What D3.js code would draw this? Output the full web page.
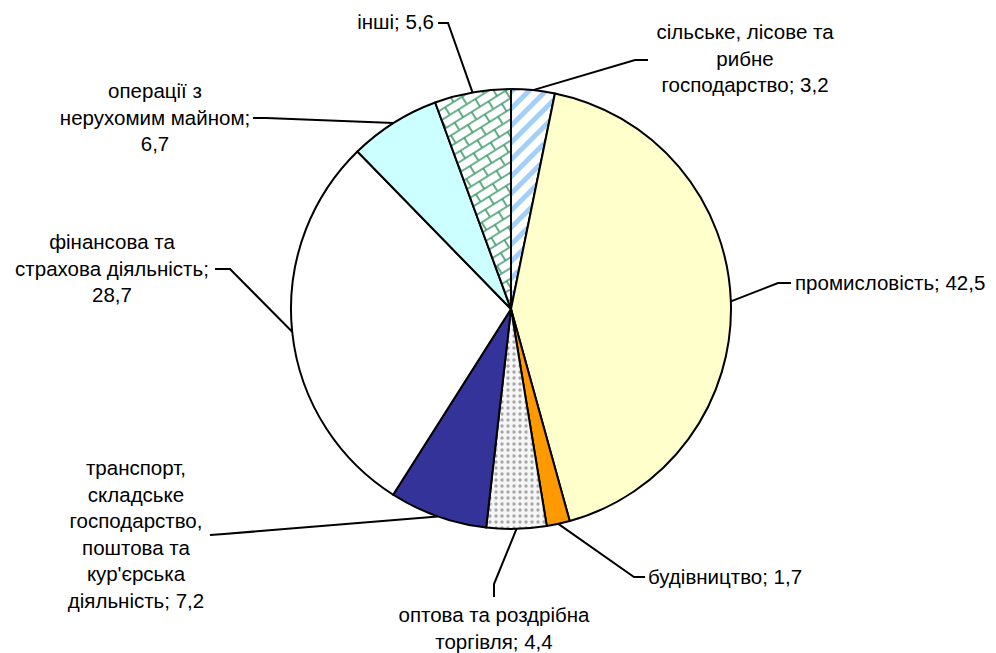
<!DOCTYPE html>
<html>
<head>
<meta charset="utf-8">
<script src="https://cdn.jsdelivr.net/npm/d3@7"></script>
<style>
  body { margin: 0; background: #fff; }
  svg { display: block; }
</style>
</head>
<body>
<div id="chart"></div>
<script>
// дані
const categories = [
  'сільське, лісове та рибне господарство',
  'промисловість',
  'будівництво',
  'оптова та роздрібна торгівля',
  'транспорт, складське господарство, поштова та кур\'єрська діяльність',
  'фінансова та страхова діяльність',
  'операції з нерухомим майном',
  'інші'
];
const values = [3.2, 42.5, 1.7, 4.4, 7.2, 28.7, 6.7, 5.6];
const labelLines = [
  ['сільське, лісове та', 'рибне', 'господарство; 3,2'],
  ['промисловість; 42,5'],
  ['будівництво; 1,7'],
  ['оптова та роздрібна', 'торгівля; 4,4'],
  ['транспорт,', 'складське', 'господарство,', 'поштова та', 'кур\'єрська', 'діяльність; 7,2'],
  ['фінансова та', 'страхова діяльність;', '28,7'],
  ['операції з', 'нерухомим майном;', '6,7'],
  ['інші; 5,6']
];
const fills = ['url(#stripes)', '#ffffcc', '#ff9900', 'url(#dots)', '#333399', '#ffffff', '#ccffff', 'url(#bricks)'];

// розміщення підписів (x, y першого рядка, вирівнювання, точки виноски)
const labelPos = [
  { x: 745, y: 39, anchor: 'middle', elbow: [[635, 60], [648, 60]] },
  { x: 795, y: 290, anchor: 'start', elbow: [[778, 283], [791, 283]] },
  { x: 648, y: 584, anchor: 'start', elbow: [[634, 577], [645, 577]] },
  { x: 494, y: 622, anchor: 'middle', elbow: [[494, 584], [494, 597]] },
  { x: 136, y: 475, anchor: 'middle', elbow: [[224, 534], [210, 535]] },
  { x: 112, y: 249, anchor: 'middle', elbow: [[230, 269], [215, 269]] },
  { x: 155, y: 98, anchor: 'middle', elbow: [[266, 118], [253, 118]] },
  { x: 434, y: 29, anchor: 'end', elbow: [[448, 23], [438, 23]] }
];

const width = 996, height = 653;
const cx = 511, cy = 309, radius = 220;
const lineH = 26.6;

const svg = d3.select('#chart').append('svg')
  .attr('width', width)
  .attr('height', height);

// візерунки заливки
const defs = svg.append('defs');
const stripes = defs.append('pattern')
  .attr('id', 'stripes')
  .attr('patternUnits', 'userSpaceOnUse')
  .attr('width', 12).attr('height', 12)
  .attr('patternTransform', 'rotate(45)');
stripes.append('rect').attr('width', 12).attr('height', 12).attr('fill', '#fff');
stripes.append('rect').attr('width', 5).attr('height', 12).attr('fill', '#a3cff8');

const dots = defs.append('pattern')
  .attr('id', 'dots')
  .attr('patternUnits', 'userSpaceOnUse')
  .attr('width', 6).attr('height', 6);
dots.append('rect').attr('width', 6).attr('height', 6).attr('fill', '#f6f6f6');
dots.append('circle').attr('cx', 3).attr('cy', 3).attr('r', 1.7).attr('fill', '#a8a8a8');

const bricks = defs.append('pattern')
  .attr('id', 'bricks')
  .attr('patternUnits', 'userSpaceOnUse')
  .attr('width', 20).attr('height', 18)
  .attr('patternTransform', 'rotate(-32)');
bricks.append('rect').attr('width', 20).attr('height', 18).attr('fill', '#fff');
bricks.append('path')
  .attr('d', 'M0,1H20M0,10H20M1,1V10M11,10V18')
  .attr('stroke', '#3a9a6a')
  .attr('stroke-width', 1.6)
  .attr('fill', 'none');

const g = svg.append('g').attr('transform', `translate(${cx},${cy})`);

const pie = d3.pie().sort(null).value(d => d)(values);
const arc = d3.arc().innerRadius(0).outerRadius(radius);

g.selectAll('path.slice')
  .data(pie)
  .join('path')
  .attr('class', 'slice')
  .attr('d', arc)
  .attr('fill', (d, i) => fills[i])
  .attr('stroke', '#000')
  .attr('stroke-width', 2)
  .attr('stroke-linejoin', 'round');

// виноски
const leader = pie.map((d, i) => {
  const a = (d.startAngle + d.endAngle) / 2;
  const p = [cx + radius * Math.sin(a), cy - radius * Math.cos(a)];
  return [p, ...labelPos[i].elbow];
});

svg.append('g')
  .selectAll('path')
  .data(leader)
  .join('path')
  .attr('d', d3.line())
  .attr('fill', 'none')
  .attr('stroke', '#000')
  .attr('stroke-width', 2);

// підписи
const labels = svg.append('g')
  .selectAll('text')
  .data(labelLines)
  .join('text')
  .attr('x', (d, i) => labelPos[i].x)
  .attr('y', (d, i) => labelPos[i].y)
  .attr('text-anchor', (d, i) => labelPos[i].anchor)
  .style('font-family', '"Liberation Sans", Arial, sans-serif')
  .style('font-size', '20.5px')
  .style('fill', '#000');

labels.selectAll('tspan')
  .data((d, i) => d.map(t => ({ t, x: labelPos[i].x })))
  .join('tspan')
  .attr('x', d => d.x)
  .attr('dy', (d, j) => j === 0 ? 0 : lineH)
  .text(d => d.t);
</script>
</body>
</html>
